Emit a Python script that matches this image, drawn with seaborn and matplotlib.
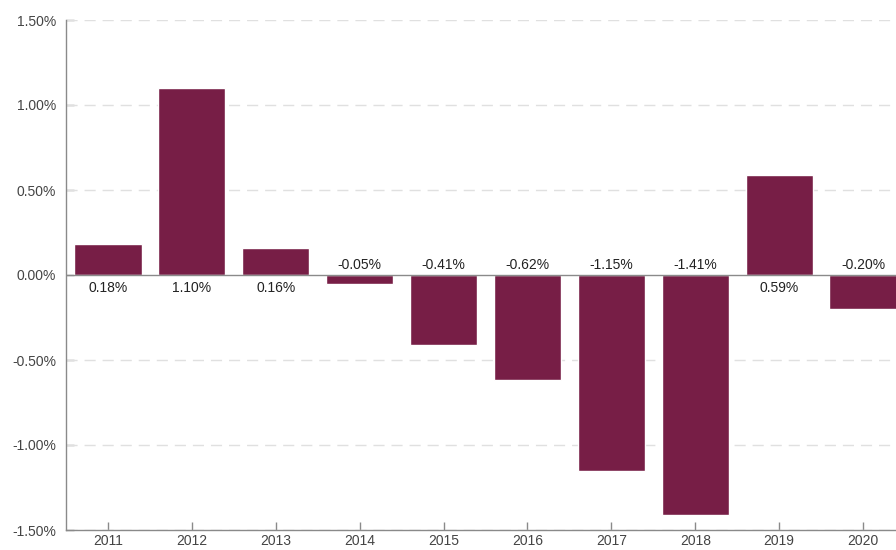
import matplotlib
matplotlib.use("Agg")
import matplotlib.pyplot as plt
import seaborn as sns
import pandas as pd
from matplotlib.ticker import FuncFormatter

# data
years = ["2011", "2012", "2013", "2014", "2015", "2016", "2017", "2018", "2019", "2020"]
returns = [0.18, 1.10, 0.16, -0.05, -0.41, -0.62, -1.15, -1.41, 0.59, -0.20]
y_ticks = [-1.5, -1.0, -0.5, 0.0, 0.5, 1.0, 1.5]

df = pd.DataFrame({"year": years, "ret": returns})

sns.set_theme(style="white")
plt.rcParams["font.family"] = ["Liberation Sans", "DejaVu Sans"]

bar_color = "#771E46"
axis_color = "#8a8a8a"

fig = plt.figure(figsize=(8.96, 5.5), dpi=100)
# axes runs a little past the right edge, as in the reference
ax = fig.add_axes([66 / 896, 20 / 550, (905 - 66) / 896, 510 / 550])

sns.barplot(data=df, x="year", y="ret", color=bar_color, saturation=1,
            width=0.8, ax=ax, zorder=3)

ax.set_xlim(-0.5, len(years) - 0.5)
ax.set_ylim(-1.5, 1.5)
ax.set_yticks(y_ticks)
ax.yaxis.set_major_formatter(FuncFormatter(lambda v, p: f"{v:.2f}%"))

for t in y_ticks:
    if t != 0:
        ax.axhline(t, color="#e0e0e0", linestyle=(0, (8, 5)), linewidth=1, zorder=1)
ax.axhline(0, color=axis_color, linewidth=1, zorder=4)

for i, v in enumerate(returns):
    if v >= 0:
        ax.text(i, -0.035, f"{v:.2f}%", ha="center", va="top", fontsize=10, color="#222222")
    else:
        ax.text(i, 0.02, f"{v:.2f}%", ha="center", va="bottom", fontsize=10, color="#222222")

ax.set_xlabel("")
ax.set_ylabel("")
for s in ["top", "right"]:
    ax.spines[s].set_visible(False)
for s in ["left", "bottom"]:
    ax.spines[s].set_color(axis_color)
    ax.spines[s].set_linewidth(1)

ax.tick_params(axis="both", direction="in", length=6, width=1, color=axis_color,
               labelsize=10, labelcolor="#444444")
ax.tick_params(axis="x", bottom=True, pad=3)
ax.tick_params(axis="y", left=True, pad=7)

fig.savefig("out.png", dpi=100)
